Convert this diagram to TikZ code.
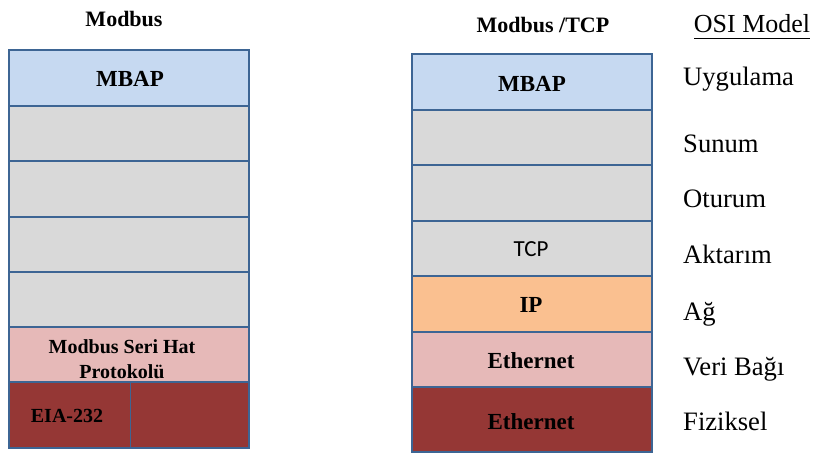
\documentclass[tikz,border=0pt]{standalone}
\usepackage{fontspec}
\setmainfont{Liberation Serif}
\newfontfamily\tcpfont{Carlito}
\definecolor{edgeblue}{HTML}{3D6594}
\definecolor{appblue}{HTML}{C6D9F1}
\definecolor{layergray}{HTML}{D9D9D9}
\definecolor{linkpink}{HTML}{E6B9B8}
\definecolor{physred}{HTML}{953735}
\definecolor{netorange}{HTML}{FAC090}
\tikzset{
  layer/.style={draw=edgeblue, line width=2.6pt},
  boxtext/.style={inner sep=0pt, font=\bfseries\fontsize{23}{25}\selectfont},
  ositext/.style={inner sep=0pt, anchor=base west, font=\fontsize{26.6}{28}\selectfont},
  headtext/.style={inner sep=0pt, anchor=base, font=\bfseries\fontsize{22}{24}\selectfont},
}
\begin{document}
\begin{tikzpicture}[x=1pt, y=-1pt]
\useasboundingbox (0,0) rectangle (813,455);

% Modbus stack
\filldraw[layer, fill=physred]   (9,382) rectangle (249,448);
\filldraw[layer, fill=linkpink]  (9,327) rectangle (249,382);
\filldraw[layer, fill=layergray] (9,272) rectangle (249,327);
\filldraw[layer, fill=layergray] (9,217) rectangle (249,272);
\filldraw[layer, fill=layergray] (9,161) rectangle (249,217);
\filldraw[layer, fill=layergray] (9,106) rectangle (249,161);
\filldraw[layer, fill=appblue]   (9,50)  rectangle (249,106);
\coordinate (divtop) at (130,382);
\coordinate (divbot) at (130,448);
\draw[edgeblue, line width=1pt] (divtop) -- (divbot);

% Modbus/TCP stack
\filldraw[layer, fill=physred]   (412,387) rectangle (652,452);
\filldraw[layer, fill=linkpink]  (412,332) rectangle (652,387);
\filldraw[layer, fill=netorange] (412,276) rectangle (652,332);
\filldraw[layer, fill=layergray] (412,221) rectangle (652,276);
\filldraw[layer, fill=layergray] (412,165) rectangle (652,221);
\filldraw[layer, fill=layergray] (412,110) rectangle (652,165);
\filldraw[layer, fill=appblue]   (412,54)  rectangle (652,110);

% headings
\node[headtext] (h1) at (124,27) {Modbus};
\node[headtext] (h2) at (543,32) {Modbus /TCP};
\node[inner sep=0pt, anchor=base, font=\fontsize{26}{28}\selectfont] (h3) at (752,32) {OSI Model};
\coordinate (ulA) at (694,38);
\coordinate (ulB) at (810,38);
\draw[line width=1pt] (ulA) -- (ulB);

% Modbus labels
\node[boxtext] (m1) at (130,79) {MBAP};
\node[inner sep=0pt, align=center, font=\bfseries\fontsize{20}{25}\selectfont] (m2) at (122,359) {Modbus Seri Hat\\Protokolü};
\node[inner sep=0pt, font=\bfseries\fontsize{20}{22}\selectfont] (m3) at (67,416) {EIA-232};

% Modbus/TCP labels
\node[boxtext] (t1) at (532,84) {MBAP};
\node[inner sep=0pt, font=\tcpfont\fontsize{23}{25}\selectfont] (t2) at (531,249) {TCP};
\node[boxtext] (t3) at (531,305) {IP};
\node[boxtext] (t4) at (531,361) {Ethernet};
\node[boxtext] (t5) at (531,422) {Ethernet};

% OSI layer names
\node[ositext] (o1) at (683,85)  {Uygulama};
\node[ositext] (o2) at (683,152) {Sunum};
\node[ositext] (o3) at (683,207) {Oturum};
\node[ositext] (o4) at (683,263) {Aktarım};
\node[ositext] (o5) at (683,320) {Ağ};
\node[ositext] (o6) at (683,375) {Veri Bağı};
\node[ositext] (o7) at (683,430) {Fiziksel};
\end{tikzpicture}
\end{document}
